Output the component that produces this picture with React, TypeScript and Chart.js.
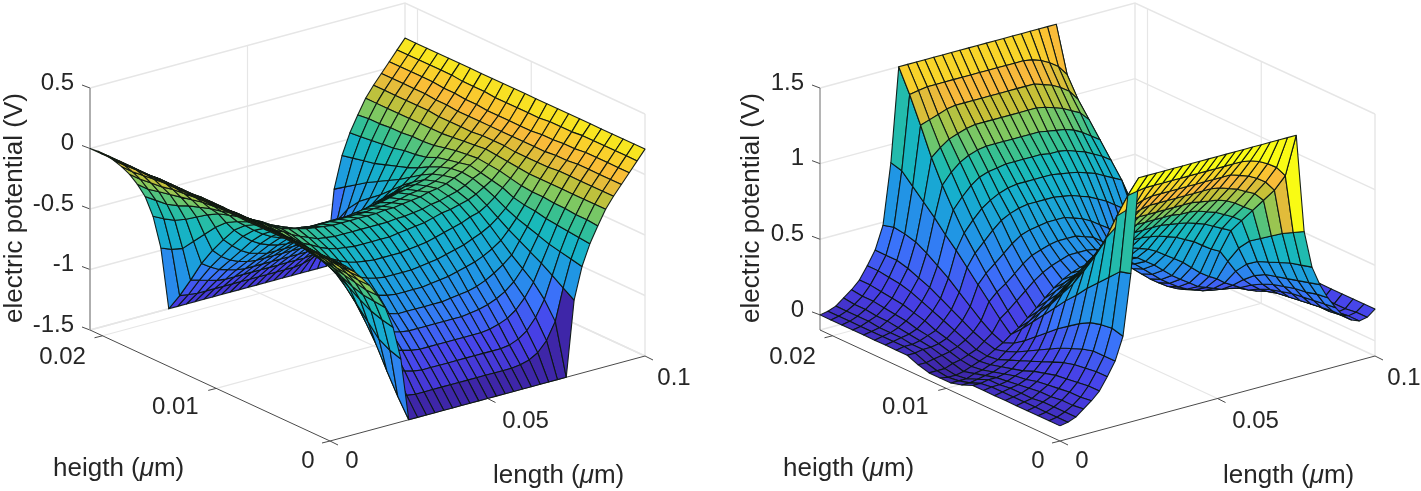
import React, { useEffect, useRef } from "react";
import { Chart, registerables } from "chart.js";

Chart.register(...registerables);

const lengths = [0,.0025,.005,.0075,.01,.0125,.015,.0175,.02,.0225,.025,.0278,.0306,.0333,.0361,.0389,.0417,.0444,.0472,.05,.0528,.0556,.0583,.0611,.0639,.0667,.0694,.0722,.075,.0775,.08,.0825,.085,.0875,.09,.0925,.095,.0975,.1];
const heights = [0,.00096,.00192,.00288,.00384,.0048,.00575,.00671,.00767,.00863,.00959,.01055,.01151,.01247,.01343,.01439,.01535,.0163,.01726,.01822,.01918,.02014,.0211];
const lengthMax = 0.1;
const heightMax = 0.0211;
const lengthTicks = ["0", "0.05", "0.1"];
const heightTicks = ["0", "0.01", "0.02"];
const leftZTicks = ["0.5", "0", "-0.5", "-1", "-1.5"];
const rightZTicks = ["1.5", "1", "0.5", "0"];

// rows run from height 0 to the mid-height; the device is mirror symmetric about mid-height
const leftHalf = [
[0,-.04,-.09,-.15,-.22,-.3,-.4,-.52,-.7,-.98,-1.5,-1.5,-1.5,-1.5,-1.5,-1.5,-1.5,-1.5,-1.5,-1.5,-1.5,-1.5,-1.5,-1.5,-1.5,-1.5,-1.5,-1.5,-1.5,-.88,-.62,-.45,-.32,-.2,-.11,-.03,.05,.13,.21],
[0,-.04,-.09,-.15,-.22,-.3,-.4,-.51,-.68,-.95,-1.35,-1.36,-1.37,-1.37,-1.37,-1.37,-1.37,-1.37,-1.37,-1.37,-1.37,-1.37,-1.37,-1.37,-1.36,-1.34,-1.3,-1.22,-1.08,-.82,-.6,-.44,-.31,-.2,-.11,-.03,.05,.13,.21],
[0,-.04,-.09,-.14,-.21,-.29,-.38,-.5,-.65,-.9,-1.18,-1.2,-1.22,-1.24,-1.25,-1.25,-1.25,-1.25,-1.25,-1.25,-1.25,-1.25,-1.25,-1.25,-1.24,-1.21,-1.16,-1.07,-.94,-.76,-.58,-.43,-.31,-.2,-.11,-.03,.05,.13,.21],
[0,-.04,-.09,-.14,-.2,-.28,-.36,-.47,-.6,-.8,-1,-1.05,-1.09,-1.11,-1.13,-1.14,-1.14,-1.14,-1.14,-1.14,-1.14,-1.14,-1.14,-1.13,-1.11,-1.08,-1.03,-.95,-.84,-.7,-.56,-.42,-.3,-.2,-.11,-.03,.05,.13,.21],
[0,-.04,-.09,-.13,-.19,-.26,-.34,-.43,-.54,-.7,-.85,-.92,-.97,-1,-1.02,-1.03,-1.03,-1.03,-1.03,-1.03,-1.03,-1.03,-1.02,-1.01,-.99,-.96,-.92,-.86,-.77,-.65,-.53,-.41,-.3,-.2,-.11,-.03,.05,.13,.21],
[0,-.04,-.08,-.13,-.19,-.25,-.32,-.4,-.48,-.6,-.72,-.79,-.85,-.89,-.91,-.93,-.93,-.93,-.93,-.93,-.93,-.92,-.91,-.9,-.88,-.85,-.81,-.76,-.7,-.6,-.5,-.39,-.29,-.2,-.11,-.04,.04,.13,.21],
[0,-.04,-.08,-.13,-.18,-.24,-.3,-.37,-.43,-.52,-.6,-.67,-.73,-.77,-.8,-.82,-.83,-.83,-.83,-.83,-.82,-.81,-.8,-.78,-.76,-.74,-.71,-.67,-.62,-.55,-.47,-.38,-.29,-.2,-.12,-.04,.04,.12,.21],
[0,-.04,-.08,-.13,-.18,-.23,-.29,-.35,-.4,-.47,-.52,-.58,-.63,-.67,-.7,-.72,-.73,-.73,-.73,-.73,-.72,-.71,-.7,-.68,-.66,-.64,-.61,-.58,-.54,-.49,-.43,-.36,-.28,-.2,-.12,-.05,.03,.12,.21],
[0,-.04,-.08,-.12,-.17,-.22,-.27,-.32,-.37,-.43,-.47,-.52,-.56,-.59,-.61,-.62,-.63,-.63,-.63,-.63,-.62,-.61,-.6,-.58,-.56,-.54,-.52,-.49,-.47,-.43,-.38,-.32,-.26,-.19,-.12,-.05,.03,.12,.21],
[0,-.04,-.08,-.12,-.17,-.22,-.26,-.31,-.35,-.4,-.43,-.47,-.5,-.52,-.53,-.54,-.54,-.54,-.54,-.54,-.53,-.52,-.51,-.5,-.48,-.46,-.45,-.43,-.41,-.38,-.34,-.3,-.24,-.18,-.12,-.05,.02,.11,.21],
[0,-.04,-.08,-.12,-.17,-.21,-.26,-.3,-.33,-.37,-.4,-.43,-.46,-.47,-.48,-.48,-.48,-.48,-.48,-.48,-.48,-.47,-.47,-.46,-.45,-.43,-.42,-.4,-.38,-.35,-.31,-.28,-.23,-.17,-.11,-.05,.02,.11,.21],
[0,-.04,-.08,-.13,-.17,-.21,-.25,-.29,-.33,-.36,-.38,-.4,-.42,-.43,-.44,-.45,-.45,-.45,-.45,-.45,-.45,-.44,-.44,-.43,-.42,-.41,-.39,-.38,-.36,-.33,-.3,-.26,-.22,-.16,-.11,-.05,.02,.11,.21],
];

const rightHalf = [
[0,.01,.03,.07,.11,.16,.24,.33,.48,.88,1.5,1.5,1.5,1.5,1.5,1.5,1.5,1.5,1.5,1.5,1.5,1.5,1.5,1.5,1.5,1.5,1.5,1.5,1.5,.85,.6,.47,.37,.29,.22,.18,.16,.17,.21],
[0,.01,.03,.06,.1,.16,.24,.33,.5,.86,1.35,1.36,1.37,1.37,1.37,1.37,1.37,1.37,1.37,1.37,1.37,1.37,1.37,1.37,1.36,1.34,1.31,1.27,1.2,.81,.58,.45,.36,.28,.22,.18,.16,.17,.21],
[0,.01,.03,.06,.1,.15,.23,.33,.49,.79,1.18,1.2,1.22,1.24,1.25,1.25,1.25,1.25,1.25,1.25,1.25,1.25,1.25,1.25,1.23,1.21,1.18,1.14,1.07,.77,.56,.43,.34,.27,.21,.17,.15,.16,.21],
[0,.01,.03,.05,.09,.14,.22,.31,.47,.72,1,1.05,1.09,1.11,1.13,1.14,1.14,1.14,1.14,1.14,1.14,1.14,1.14,1.13,1.11,1.09,1.06,1.03,.97,.72,.53,.41,.33,.26,.2,.17,.15,.16,.21],
[0,.01,.02,.05,.08,.13,.2,.28,.43,.65,.85,.92,.97,1,1.02,1.03,1.03,1.03,1.03,1.03,1.03,1.03,1.02,1.01,1,.98,.95,.91,.87,.67,.5,.39,.31,.25,.19,.16,.15,.16,.21],
[0,.01,.02,.04,.07,.11,.17,.25,.38,.57,.72,.79,.85,.89,.91,.92,.93,.93,.93,.93,.93,.92,.92,.91,.89,.87,.84,.81,.77,.62,.47,.37,.29,.23,.18,.15,.14,.16,.21],
[0,.01,.02,.03,.05,.09,.14,.21,.33,.5,.6,.67,.73,.77,.8,.82,.83,.83,.83,.83,.83,.82,.81,.8,.78,.76,.73,.7,.67,.54,.42,.33,.26,.21,.17,.14,.14,.16,.21],
[0,.01,.01,.02,.04,.06,.11,.17,.27,.42,.5,.56,.62,.67,.7,.72,.73,.73,.73,.73,.72,.71,.69,.67,.64,.61,.57,.53,.5,.42,.34,.27,.22,.18,.15,.13,.13,.15,.21],
[0,0,.01,.01,.02,.04,.08,.13,.21,.34,.4,.45,.5,.55,.59,.61,.62,.63,.63,.63,.61,.59,.56,.52,.48,.44,.39,.34,.3,.27,.23,.2,.17,.14,.12,.12,.12,.15,.21],
[-.03,-.03,-.02,-.01,0,.02,.05,.09,.15,.26,.31,.35,.4,.45,.49,.51,.53,.54,.54,.54,.52,.5,.46,.42,.37,.32,.28,.24,.2,.18,.16,.14,.13,.12,.11,.11,.12,.15,.21],
[-.05,-.05,-.05,-.03,-.02,0,.02,.06,.1,.18,.22,.27,.32,.37,.41,.44,.46,.48,.48,.48,.47,.45,.41,.36,.31,.26,.22,.18,.15,.13,.11,.1,.09,.09,.09,.1,.12,.15,.21],
[-.05,-.06,-.06,-.05,-.03,-.01,.01,.04,.07,.11,.14,.19,.24,.29,.34,.38,.41,.43,.44,.45,.44,.42,.38,.33,.28,.23,.19,.15,.12,.1,.09,.08,.08,.08,.09,.1,.12,.15,.21],
];

const mirror = (half: number[][]) => [...half, ...half.slice(0, -1).reverse()];
const leftValues = mirror(leftHalf);
const rightValues = mirror(rightHalf);

const parulaStops: [number, number, number, number][] = [
  [0, 62, 38, 168], [.09, 71, 60, 225], [.15, 71, 70, 235], [.25, 58, 115, 250], [.36, 32, 150, 228], [.5, 22, 175, 205],
  [.57, 25, 185, 185], [.63, 55, 192, 145], [.7, 130, 200, 95], [.77, 200, 192, 55], [.84, 248, 185, 60], [.88, 250, 195, 50], [.92, 248, 215, 40], [1, 249, 251, 20],
];
function parula(t: number) {
  const v = Math.min(1, Math.max(0, t));
  for (let i = 1; i < parulaStops.length; i++) {
    const a = parulaStops[i - 1], b = parulaStops[i];
    if (v <= b[0]) {
      const f = (v - a[0]) / (b[0] - a[0]);
      return `rgb(${a[1] + f * (b[1] - a[1])},${a[2] + f * (b[2] - a[2])},${a[3] + f * (b[3] - a[3])})`;
    }
  }
  return "rgb(249,251,20)";
}

type PanelProps = { values: number[][]; zTicks: string[]; zMin: number; zMax: number; shift: number };
const INK = "#262626";
const FONT = '24px "Liberation Sans"';
const TITLE = '26px "Liberation Sans"';
const ITALIC = 'italic 26px "Liberation Sans"';

function Panel({ values, zTicks, zMin, zMax, shift }: PanelProps) {
  const ref = useRef<HTMLCanvasElement>(null);
  useEffect(() => {
    const ox = 330 + shift;
    const oy = 441;
    const pt = (len: number, h: number, z: number) => {
      const l = len / lengthMax, n = h / heightMax, c = (z - zMin) / (zMax - zMin);
      return { x: ox + 315 * l - 240 * n, y: oy - 85 * l - 111 * n - 242 * c };
    };
    const seg = (pts: { x: number; y: number }[], color: string, width: number) => ({
      data: pts, showLine: true, borderColor: color, borderWidth: width, pointRadius: 0, fill: false, tension: 0, clip: false,
    });

    let lo = Infinity, hi = -Infinity;
    values.forEach((r) => r.forEach((v) => { lo = Math.min(lo, v); hi = Math.max(hi, v); }));

    const cells: { depth: number; ds: any }[] = [];
    for (let i = 0; i < heights.length - 1; i++) {
      for (let j = 0; j < lengths.length - 1; j++) {
        const corners = [[i, j], [i, j + 1], [i + 1, j + 1], [i + 1, j]];
        const pts = corners.map(([a, b]) => pt(lengths[b], heights[a], values[a][b]));
        let depth = 0;
        corners.forEach(([a, b]) => {
          depth += 225 * lengths[b] / lengthMax + 293 * heights[a] / heightMax - 91 * (values[a][b] - zMin) / (zMax - zMin);
        });
        cells.push({
          depth,
          ds: {
            data: [...pts, pts[0]], showLine: true, fill: "shape",
            backgroundColor: parula((values[i][j] - lo) / (hi - lo)),
            borderColor: "rgba(12,22,18,0.95)", borderWidth: 1.1, pointRadius: 0, tension: 0, clip: false,
            borderJoinStyle: "round",
          },
        });
      }
    }
    cells.sort((a, b) => a.depth - b.depth);

    const GRID = "#e6e6e6";
    const axisDark = "#4a4a4a";
    const frame: any[] = [];
    const zLineColor = zMin < -1 ? "#9a9a9a" : "#6a6a6a";
    frame.push(seg([pt(0, heightMax, zMin), pt(0, heightMax, zMax)], zLineColor, zMin < -1 ? 1.6 : 1));
    frame.push(seg([pt(0, 0, zMin), pt(lengthMax, 0, zMin)], axisDark, 1));
    frame.push(seg([pt(0, 0, zMin), pt(0, heightMax, zMin)], axisDark, 1));
    zTicks.forEach((t) => {
      const a = pt(0, heightMax, Number(t));
      frame.push(seg([a, { x: a.x - 8, y: a.y - 3 }], axisDark, 1));
    });
    lengthTicks.forEach((t) => {
      const a = pt(Number(t), 0, zMin);
      frame.push(seg([a, { x: a.x + 8, y: a.y + 4 }], axisDark, 1));
    });
    heightTicks.forEach((t) => {
      const a = pt(0, Number(t), zMin);
      frame.push(seg([a, { x: a.x - 8, y: a.y + 2 }], axisDark, 1));
    });
    zTicks.forEach((t) => {
      const z = Number(t);
      frame.push(seg([pt(0, heightMax, z), pt(lengthMax, heightMax, z), pt(lengthMax, 0, z)], GRID, 1.4));
    });
    frame.push(seg([pt(lengthMax, heightMax, zMin), pt(lengthMax, heightMax, zMax)], GRID, 1.4));
    frame.push(seg([pt(lengthMax, 0, zMin), pt(lengthMax, 0, zMax)], GRID, 1.4));
    frame.push(seg([pt(0, heightMax, zMin), pt(lengthMax, heightMax, zMin), pt(lengthMax, 0, zMin)], GRID, 1.4));
    ["0.05"].forEach((t) => {
      const l = Number(t);
      frame.push(seg([pt(l, 0, zMin), pt(l, heightMax, zMin), pt(l, heightMax, zMax)], GRID, 1.2));
    });
    ["0.01", "0.02"].forEach((t) => {
      const h = Number(t);
      frame.push(seg([pt(0, h, zMin), pt(lengthMax, h, zMin), pt(lengthMax, h, zMax)], GRID, 1.2));
    });

    const labels = {
      id: "labels3d",
      afterDraw(chart: any) {
        const { ctx, scales } = chart;
        const px = (x: number) => scales.x.getPixelForValue(x);
        const py = (y: number) => scales.y.getPixelForValue(y);
        ctx.save();
        ctx.fillStyle = INK;
        ctx.font = FONT;
        ctx.textBaseline = "middle";
        ctx.textAlign = "right";
        zTicks.forEach((t) => {
          ctx.fillText(t, px(74 + shift), py(pt(0, heightMax, Number(t)).y - 5));
        });
        ctx.textAlign = "center";
        const hOff = [[-22, 20], [-41, 19], [-40, 22]];
        heightTicks.forEach((t, i) => {
          const a = pt(0, Number(t), zMin);
          ctx.fillText(t, px(a.x + hOff[i][0]), py(a.y + hOff[i][1]));
        });
        const lOff = [[22, 20], [38, 23], [29, 22]];
        lengthTicks.forEach((t, i) => {
          const a = pt(Number(t), 0, zMin);
          ctx.fillText(t, px(a.x + lOff[i][0]), py(a.y + lOff[i][1]));
        });
        const title = (before: string, x: number, y: number) => {
          ctx.textAlign = "left";
          let cx = x;
          ctx.font = TITLE;
          ctx.fillText(before, px(cx), py(y));
          cx += ctx.measureText(before).width;
          ctx.font = ITALIC;
          ctx.fillText("\u03bc", px(cx), py(y));
          cx += ctx.measureText("\u03bc").width;
          ctx.font = TITLE;
          ctx.fillText("m)", px(cx), py(y));
        };
        title("heigth (", 53 + shift, 469);
        title("length (", 493 + shift, 476);
        ctx.font = TITLE;
        ctx.textAlign = "center";
        ctx.translate(px((zMin < -1 ? 15 : 22) + shift), py(208));
        ctx.rotate(-Math.PI / 2);
        ctx.fillText("electric potential (V)", 0, 0);
        ctx.restore();
      },
    };

    const chart = new Chart(ref.current!, {
      type: "scatter",
      data: { datasets: [...cells.map((c) => c.ds), ...frame] },
      plugins: [labels],
      options: {
        animation: false, responsive: false, events: [],
        layout: { padding: 0 },
        plugins: { legend: { display: false }, tooltip: { enabled: false }, title: { display: false } },
        scales: {
          x: { type: "linear", display: false, min: 0, max: ref.current!.width, offset: false },
          y: { type: "linear", display: false, min: 0, max: ref.current!.height, reverse: true, offset: false },
        },
      } as any,
    } as any);
    return () => chart.destroy();
  }, []);
  return <canvas ref={ref} width={shift === 0 ? 711 : 710} height={491} style={{ position: "absolute", left: shift === 0 ? 0 : 711, top: 0, display: "block" }} />;
}

export default function App() {
  return (
    <div style={{ position: "absolute", left: 0, top: 0, width: 1421, height: 491, background: "#fff", overflow: "hidden" }}>
      <Panel values={leftValues} zTicks={leftZTicks} zMin={-1.5} zMax={0.5} shift={0} />
      <Panel values={rightValues} zTicks={rightZTicks} zMin={-0.1} zMax={1.5} shift={19} />
    </div>
  );
}
